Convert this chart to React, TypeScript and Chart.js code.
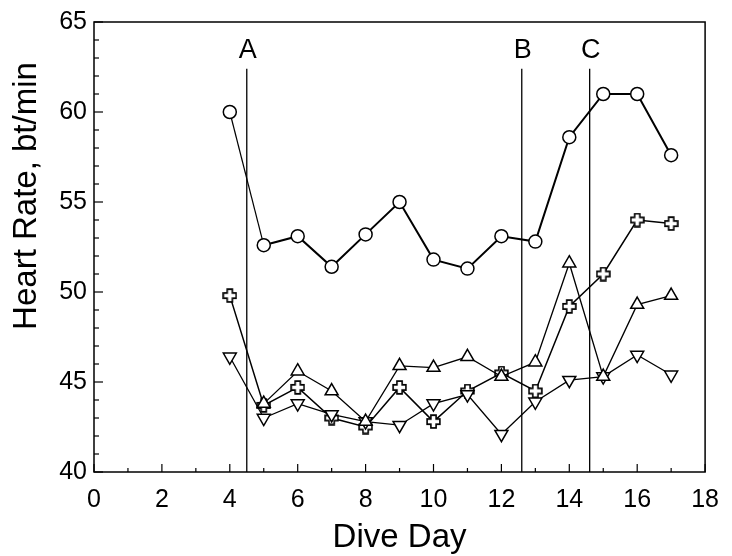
import React, { useEffect, useRef } from "react";
import { Chart, registerables } from "chart.js";

Chart.register(...registerables);

const days = [4, 5, 6, 7, 8, 9, 10, 11, 12, 13, 14, 15, 16, 17];
const circleSeries = [60.0, 52.6, 53.1, 51.4, 53.2, 55.0, 51.8, 51.3, 53.1, 52.8, 58.6, 61.0, 61.0, 57.6];
const plusSeries = [49.8, 43.7, 44.7, 43.0, 42.5, 44.7, 42.8, 44.5, 45.5, 44.5, 49.2, 51.0, 54.0, 53.8];
const upDays = [5, 6, 7, 8, 9, 10, 11, 12, 13, 14, 15, 16, 17];
const upSeries = [43.8, 45.6, 44.5, 42.8, 45.9, 45.8, 46.4, 45.3, 46.1, 51.6, 45.3, 49.3, 49.8];
const downSeries = [46.4, 43.0, 43.8, 43.2, 42.8, 42.6, 43.8, 44.3, 42.1, 43.9, 45.1, 45.3, 46.5, 45.4];

const markerLines = [
  { label: "A", day: 4.5 },
  { label: "B", day: 12.6 },
  { label: "C", day: 14.6 },
];
const markerLineTop = 62.4;

const xTitle = "Dive Day";
const yTitle = "Heart Rate, bt/min";

const FONT = "'Liberation Sans', Arial, Helvetica, sans-serif";

function makePlus(): HTMLCanvasElement {
  const c = document.createElement("canvas");
  c.width = 15;
  c.height = 15;
  const g = c.getContext("2d")!;
  const s = 7.5;
  const a = 2.6;
  const L = 6.4;
  g.beginPath();
  g.moveTo(s - a, s - L);
  g.lineTo(s + a, s - L);
  g.lineTo(s + a, s - a);
  g.lineTo(s + L, s - a);
  g.lineTo(s + L, s + a);
  g.lineTo(s + a, s + a);
  g.lineTo(s + a, s + L);
  g.lineTo(s - a, s + L);
  g.lineTo(s - a, s + a);
  g.lineTo(s - L, s + a);
  g.lineTo(s - L, s - a);
  g.lineTo(s - a, s - a);
  g.closePath();
  g.fillStyle = "#fff";
  g.fill();
  g.lineWidth = 1.6;
  g.strokeStyle = "#000";
  g.stroke();
  return c;
}

const framePlugin = {
  id: "frame",
  beforeDatasetsDraw(chart: any) {
    const { ctx, chartArea, scales } = chart;
    const x = scales.x;
    const y = scales.y;
    ctx.save();
    ctx.strokeStyle = "#000";
    ctx.fillStyle = "#000";
    ctx.lineWidth = 1.5;
    ctx.strokeRect(chartArea.left, chartArea.top, chartArea.right - chartArea.left, chartArea.bottom - chartArea.top);
    ctx.lineWidth = 1.2;
    for (let v = 40; v <= 65; v++) {
      const py = y.getPixelForValue(v);
      const len = v % 5 === 0 ? 9 : 5;
      ctx.beginPath();
      ctx.moveTo(chartArea.left, py);
      ctx.lineTo(chartArea.left + len, py);
      ctx.stroke();
    }
    for (let d = 0; d <= 18; d++) {
      const px = x.getPixelForValue(d);
      const len = d % 2 === 0 ? 8 : 4;
      ctx.beginPath();
      ctx.moveTo(px, chartArea.bottom);
      ctx.lineTo(px, chartArea.bottom - len);
      ctx.stroke();
    }
    ctx.lineWidth = 1.3;
    ctx.font = `27px ${FONT}`;
    ctx.textAlign = "center";
    ctx.textBaseline = "middle";
    for (const m of markerLines) {
      const px = x.getPixelForValue(m.day);
      ctx.beginPath();
      ctx.moveTo(px, y.getPixelForValue(markerLineTop));
      ctx.lineTo(px, chartArea.bottom);
      ctx.stroke();
      ctx.fillText(m.label, px + 1, 51);
    }
    ctx.font = `33px ${FONT}`;
    ctx.fillText(xTitle, (chartArea.left + chartArea.right) / 2, 538);
    ctx.translate(27, 196);
    ctx.rotate(-Math.PI / 2);
    ctx.fillText(yTitle, 0, 0);
    ctx.restore();
  },
};

export default function App() {
  const ref = useRef<HTMLCanvasElement | null>(null);
  useEffect(() => {
    document.body.style.margin = "0";
    const plus = makePlus();
    const lineBase = {
      borderColor: "#000",
      pointBackgroundColor: "#fff",
      pointBorderColor: "#000",
      pointBorderWidth: 1.5,
      tension: 0,
      fill: false,
    };
    const chart = new Chart(ref.current!, {
      type: "line",
      data: {
        datasets: [
          {
            ...lineBase,
            label: "circle",
            data: days.map((d, i) => ({ x: d, y: circleSeries[i] })),
            borderWidth: 2,
            segment: { borderWidth: (c: any) => (c.p0DataIndex === 0 ? 1.2 : 2) },
            pointStyle: "circle",
            pointRadius: 6.5,
          },
          {
            ...lineBase,
            label: "up",
            data: upDays.map((d, i) => ({ x: d, y: upSeries[i] })),
            borderWidth: 1.3,
            pointStyle: "triangle",
            pointRadius: 7.5,
          },
          {
            ...lineBase,
            label: "down",
            data: days.map((d, i) => ({ x: d, y: downSeries[i] })),
            borderWidth: 1.3,
            pointStyle: "triangle",
            pointRotation: 180,
            pointRadius: 7.5,
          },
          {
            ...lineBase,
            label: "plus",
            data: days.map((d, i) => ({ x: d, y: plusSeries[i] })),
            borderWidth: 1.5,
            pointStyle: plus as any,
            pointRadius: 7,
          },
        ],
      },
      options: {
        animation: false,
        responsive: false,
        events: [],
        layout: { padding: { top: 22, right: 18, left: 0, bottom: 0 } },
        plugins: {
          legend: { display: false },
          tooltip: { enabled: false },
        },
        scales: {
          x: {
            type: "linear",
            min: 0,
            max: 18,
            grid: { display: false, drawTicks: false },
            border: { display: false },
            ticks: {
              stepSize: 2,
              color: "#000",
              padding: 13,
              font: { family: FONT, size: 25 },
              maxRotation: 0,
            },
            afterFit: (s: any) => {
              s.height = 84;
            },
          },
          y: {
            type: "linear",
            min: 40,
            max: 65,
            grid: { display: false, drawTicks: false },
            border: { display: false },
            ticks: {
              stepSize: 5,
              color: "#000",
              padding: 7,
              font: { family: FONT, size: 25 },
            },
            afterFit: (s: any) => {
              s.width = 94;
            },
          },
        },
      },
      plugins: [framePlugin],
    });
    return () => chart.destroy();
  }, []);
  return (
    <div style={{ width: 732, height: 556, background: "#fff" }}>
      <canvas ref={ref} width={732} height={556} />
    </div>
  );
}
